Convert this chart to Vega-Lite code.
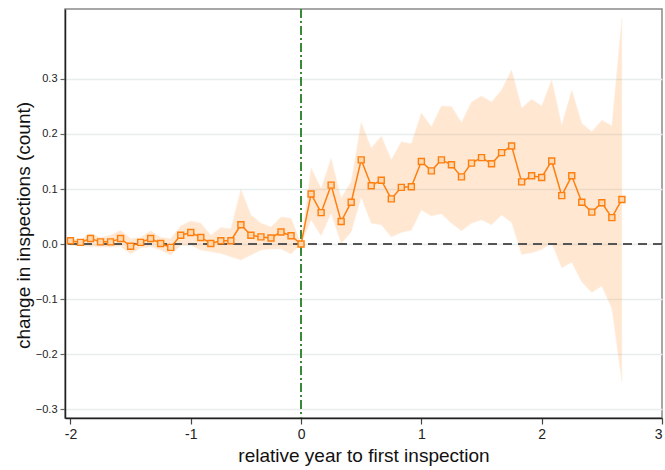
{
  "$schema": "https://vega.github.io/schema/vega-lite/v6.json",
  "width": 597,
  "height": 409,
  "autosize": {"type": "none"},
  "padding": {"left": 65, "top": 9, "right": 3, "bottom": 52},
  "background": "white",
  "config": {
    "font": "Liberation Sans",
    "view": {"stroke": "#8a8a8a", "strokeWidth": 1.5},
    "axis": {"labelFont": "Liberation Sans", "titleFont": "Liberation Sans", "titleFontWeight": "normal", "labelColor": "#222", "titleColor": "#111"}
  },
  "data": {
    "values": [
      {"x": -1.9167, "y": 0.006, "lo": -0.002, "hi": 0.010},
      {"x": -1.8333, "y": 0.003, "lo": -0.003, "hi": 0.007},
      {"x": -1.75, "y": 0.010, "lo": -0.005, "hi": 0.019},
      {"x": -1.6667, "y": 0.004, "lo": -0.005, "hi": 0.012},
      {"x": -1.5833, "y": 0.004, "lo": -0.006, "hi": 0.016},
      {"x": -1.5, "y": 0.010, "lo": -0.004, "hi": 0.025},
      {"x": -1.4167, "y": -0.004, "lo": -0.018, "hi": 0.010},
      {"x": -1.3333, "y": 0.003, "lo": -0.007, "hi": 0.012},
      {"x": -1.25, "y": 0.010, "lo": -0.005, "hi": 0.024},
      {"x": -1.1667, "y": 0.001, "lo": -0.011, "hi": 0.012},
      {"x": -1.0833, "y": -0.006, "lo": -0.020, "hi": 0.010},
      {"x": -1.0, "y": 0.016, "lo": -0.002, "hi": 0.033},
      {"x": -0.9167, "y": 0.021, "lo": -0.002, "hi": 0.042},
      {"x": -0.8333, "y": 0.012, "lo": -0.011, "hi": 0.038},
      {"x": -0.75, "y": 0.001, "lo": -0.014, "hi": 0.016},
      {"x": -0.6667, "y": 0.006, "lo": -0.017, "hi": 0.030},
      {"x": -0.5833, "y": 0.006, "lo": -0.023, "hi": 0.028},
      {"x": -0.5, "y": 0.035, "lo": -0.029, "hi": 0.099},
      {"x": -0.4167, "y": 0.016, "lo": -0.020, "hi": 0.053},
      {"x": -0.3333, "y": 0.013, "lo": -0.011, "hi": 0.038},
      {"x": -0.25, "y": 0.011, "lo": -0.009, "hi": 0.031},
      {"x": -0.1667, "y": 0.022, "lo": -0.009, "hi": 0.049},
      {"x": -0.0833, "y": 0.015, "lo": -0.018, "hi": 0.047},
      {"x": 0.0, "y": 0.000, "lo": 0.000, "hi": 0.000},
      {"x": 0.0833, "y": 0.091, "lo": 0.044, "hi": 0.138},
      {"x": 0.1667, "y": 0.057, "lo": 0.015, "hi": 0.101},
      {"x": 0.25, "y": 0.107, "lo": 0.056, "hi": 0.156},
      {"x": 0.3333, "y": 0.041, "lo": 0.001, "hi": 0.083},
      {"x": 0.4167, "y": 0.076, "lo": 0.022, "hi": 0.113},
      {"x": 0.5, "y": 0.153, "lo": 0.085, "hi": 0.221},
      {"x": 0.5833, "y": 0.106, "lo": 0.038, "hi": 0.174},
      {"x": 0.6667, "y": 0.116, "lo": 0.035, "hi": 0.196},
      {"x": 0.75, "y": 0.082, "lo": 0.013, "hi": 0.153},
      {"x": 0.8333, "y": 0.103, "lo": 0.021, "hi": 0.186},
      {"x": 0.9167, "y": 0.104, "lo": 0.025, "hi": 0.182},
      {"x": 1.0, "y": 0.150, "lo": 0.062, "hi": 0.238},
      {"x": 1.0833, "y": 0.133, "lo": 0.051, "hi": 0.213},
      {"x": 1.1667, "y": 0.153, "lo": 0.055, "hi": 0.251},
      {"x": 1.25, "y": 0.144, "lo": 0.038, "hi": 0.250},
      {"x": 1.3333, "y": 0.122, "lo": 0.024, "hi": 0.221},
      {"x": 1.4167, "y": 0.147, "lo": 0.038, "hi": 0.258},
      {"x": 1.5, "y": 0.157, "lo": 0.044, "hi": 0.269},
      {"x": 1.5833, "y": 0.146, "lo": 0.035, "hi": 0.258},
      {"x": 1.6667, "y": 0.166, "lo": 0.053, "hi": 0.280},
      {"x": 1.75, "y": 0.178, "lo": 0.039, "hi": 0.316},
      {"x": 1.8333, "y": 0.113, "lo": -0.019, "hi": 0.247},
      {"x": 1.9167, "y": 0.124, "lo": -0.016, "hi": 0.263},
      {"x": 2.0, "y": 0.121, "lo": -0.010, "hi": 0.251},
      {"x": 2.0833, "y": 0.151, "lo": 0.002, "hi": 0.298},
      {"x": 2.1667, "y": 0.088, "lo": -0.043, "hi": 0.216},
      {"x": 2.25, "y": 0.124, "lo": -0.033, "hi": 0.280},
      {"x": 2.3333, "y": 0.076, "lo": -0.069, "hi": 0.219},
      {"x": 2.4167, "y": 0.058, "lo": -0.088, "hi": 0.204},
      {"x": 2.5, "y": 0.075, "lo": -0.076, "hi": 0.225},
      {"x": 2.5833, "y": 0.048, "lo": -0.117, "hi": 0.215},
      {"x": 2.6667, "y": 0.081, "lo": -0.250, "hi": 0.410}
    ]
  },
  "layer": [
    {
      "mark": {"type": "area", "color": "#ff7f0e", "opacity": 0.18, "stroke": "#fdae6b", "strokeWidth": 1, "strokeOpacity": 0.5},
      "encoding": {
        "x": {
          "field": "x", "type": "quantitative",
          "scale": {"domain": [-1.962, 3.0], "nice": false, "zero": false},
          "axis": {
            "title": "relative year to first inspection",
            "titleFontSize": 19, "titlePadding": 5,
            "values": [-1.9167, -0.9167, 0, 1, 2, 3],
            "labelExpr": "datum.value < -1.5 ? '-2' : datum.value < -0.5 ? '-1' : format(datum.value, 'd')",
            "labelFontSize": 14, "labelPadding": 3,
            "grid": false, "domainColor": "#222", "domainWidth": 1.5,
            "tickColor": "#444", "tickSize": 6, "tickWidth": 1.2
          }
        },
        "y": {
          "field": "lo", "type": "quantitative",
          "scale": {"domain": [-0.316, 0.427], "nice": false, "zero": false},
          "axis": {
            "title": "change in inspections (count)",
            "titleFontSize": 19, "titlePadding": 2, "titleY": 216,
            "values": [-0.3, -0.2, -0.1, 0, 0.1, 0.2, 0.3],
            "format": ".1f", "labelFontSize": 11, "labelPadding": 3,
            "grid": true, "gridColor": "#e8eeee", "gridWidth": 1.5,
            "domainColor": "#222", "domainWidth": 1.5,
            "tickColor": "#666", "tickSize": 5, "tickWidth": 1.2
          }
        },
        "y2": {"field": "hi"}
      }
    },
    {
      "mark": {"type": "rule", "color": "#555555", "strokeWidth": 2, "strokeDash": [9, 6]},
      "encoding": {"y": {"datum": 0}}
    },
    {
      "mark": {"type": "rule", "color": "#3a8a3a", "strokeWidth": 1.5, "strokeDash": [9, 3, 2, 3]},
      "encoding": {"x": {"datum": 0}}
    },
    {
      "mark": {"type": "line", "color": "#ff7f0e", "strokeWidth": 1.5,
        "point": {"shape": "square", "size": 36, "filled": true, "fill": "#fdd8b0", "stroke": "#ff7f0e", "strokeWidth": 1.4}},
      "encoding": {
        "x": {"field": "x", "type": "quantitative"},
        "y": {"field": "y", "type": "quantitative"}
      }
    }
  ]
}
